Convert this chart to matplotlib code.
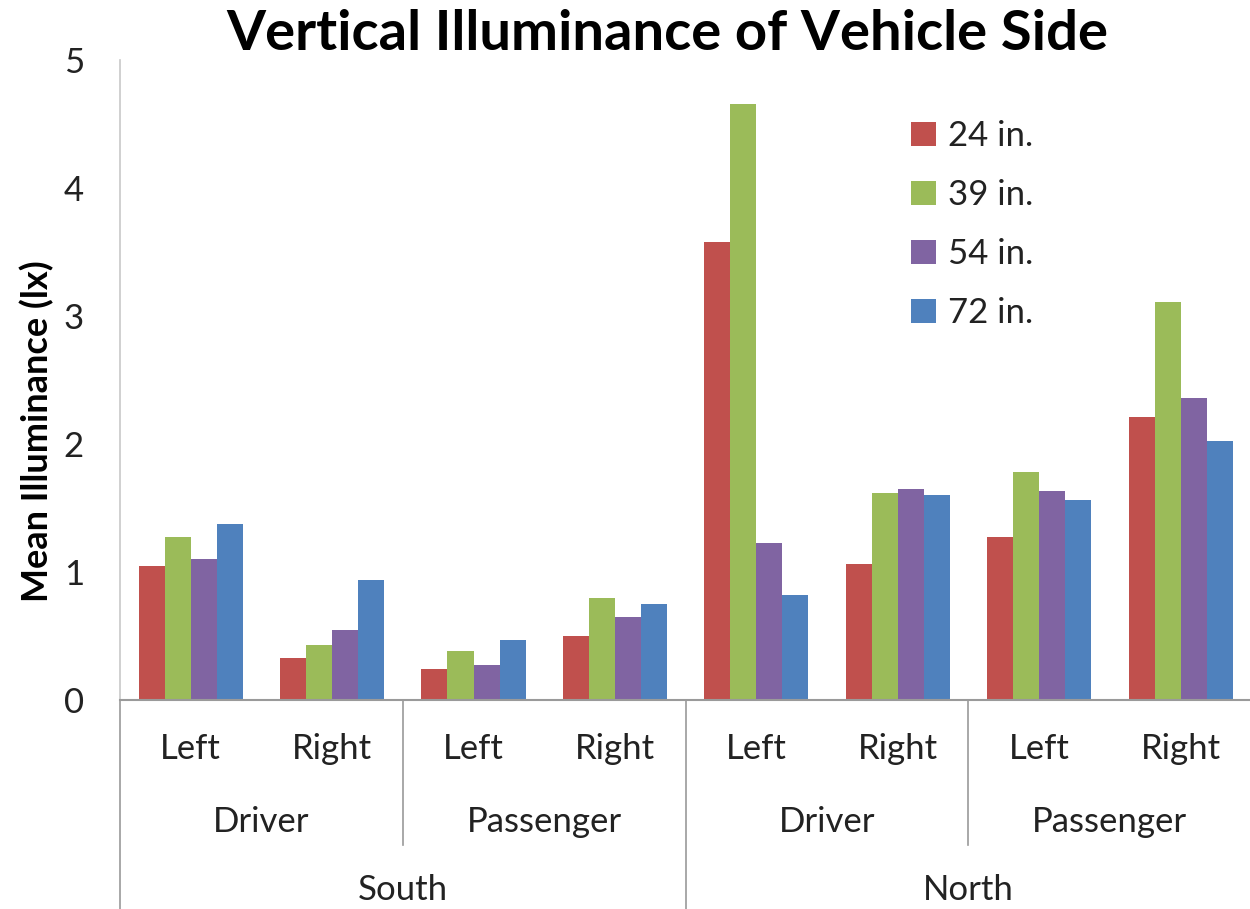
import numpy as np
import matplotlib.pyplot as plt
from matplotlib.patches import Patch
from matplotlib.transforms import blended_transform_factory

plt.rcParams['font.family'] = ['Lato', 'DejaVu Sans']

# Data
sides = ['Left', 'Right', 'Left', 'Right', 'Left', 'Right', 'Left', 'Right']
positions = ['Driver', 'Passenger', 'Driver', 'Passenger']
directions = ['South', 'North']
heights = ['24 in.', '39 in.', '54 in.', '72 in.']

h24 = [1.05, 0.33, 0.24, 0.50, 3.58, 1.06, 1.27, 2.21]
h39 = [1.27, 0.43, 0.38, 0.80, 4.66, 1.62, 1.78, 3.11]
h54 = [1.10, 0.55, 0.27, 0.65, 1.23, 1.65, 1.63, 2.36]
h72 = [1.375, 0.94, 0.47, 0.75, 0.82, 1.60, 1.56, 2.02]

colors = ['#C0504D', '#9BBB59', '#8064A2', '#4F81BD']
txt = '#222222'

fig = plt.figure(figsize=(12.5, 9.09), dpi=100)
ax = fig.add_axes([0.096, 0.23, 0.905, 0.704])

x = np.arange(len(sides))
w = 0.184
for i, (vals, c) in enumerate(zip([h24, h39, h54, h72], colors)):
    ax.bar(x + (i - 1.5) * w, vals, width=w, color=c, label=heights[i])

ax.set_xlim(-0.5, len(sides) - 0.5)
ax.set_ylim(0, 5)
ax.set_yticks(range(6))
ax.tick_params(axis='y', length=0, pad=26, labelsize=25, labelcolor=txt)
ax.set_xticks(x)
ax.set_xticklabels(sides)
ax.tick_params(axis='x', length=0, pad=24, labelsize=25, labelcolor=txt)

for s in ['top', 'right']:
    ax.spines[s].set_visible(False)
ax.spines['left'].set_color('#C8C8C8')
ax.spines['bottom'].set_color('#9A9A9A')
ax.spines['left'].set_linewidth(1.2)
ax.spines['bottom'].set_linewidth(1.5)

trans = blended_transform_factory(ax.transData, ax.transAxes)
# second level labels
for j, p in enumerate(positions):
    ax.text(2 * j + 0.5, -0.19, p, transform=trans, ha='center', va='center',
            fontsize=25, color=txt)
# third level labels
for j, d in enumerate(directions):
    ax.text(4 * j + 1.5, -0.297, d, transform=trans, ha='center', va='center',
            fontsize=25, color=txt)

# separator lines under the axis
for xs in [1.5, 5.5]:
    ax.plot([xs, xs], [0, -0.227], transform=trans, color='#9A9A9A', lw=1.2, clip_on=False)
for xs in [-0.5, 3.5]:
    ax.plot([xs, xs], [0, -0.33], transform=trans, color='#9A9A9A', lw=1.2, clip_on=False)

ax.set_ylabel('Mean Illuminance (lx)', fontsize=26, fontweight='bold')
ax.yaxis.set_label_coords(-0.058, 0.42)
fig.text(0.534, 0.945, 'Vertical Illuminance of Vehicle Side', fontsize=40.5,
         fontweight='bold', ha='center', va='baseline')

handles = [Patch(facecolor=c) for c in colors]
ax.legend(handles, heights, loc='upper left', bbox_to_anchor=(0.672, 0.955),
          frameon=False, fontsize=25, handlelength=0.7, handleheight=0.7,
          labelspacing=0.78, handletextpad=0.35, labelcolor=txt)

fig.savefig('out.png', dpi=100)
